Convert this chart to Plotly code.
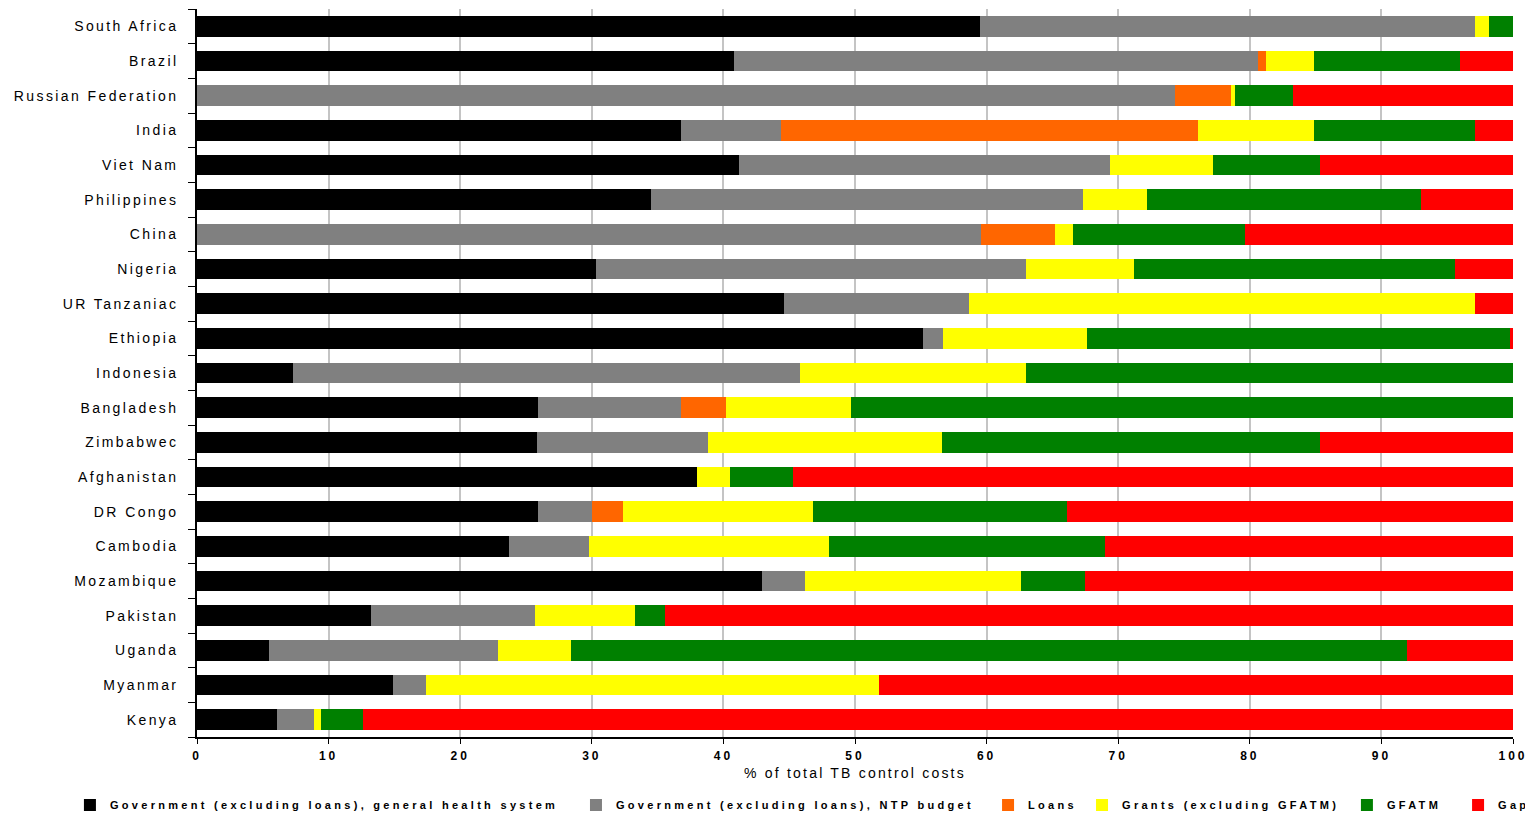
import plotly.graph_objects as go

# countries, top to bottom as in the chart
countries = [
    'South Africa', 'Brazil', 'Russian Federation', 'India', 'Viet Nam',
    'Philippines', 'China', 'Nigeria', 'UR Tanzaniac', 'Ethiopia',
    'Indonesia', 'Bangladesh', 'Zimbabwec', 'Afghanistan', 'DR Congo',
    'Cambodia', 'Mozambique', 'Pakistan', 'Uganda', 'Myanmar', 'Kenya',
]

# % of total TB control costs, per funding source
gov_general = [59.5, 40.8, 0, 36.8, 41.2, 34.5, 0, 30.35, 44.6, 55.2,
               7.3, 25.9, 25.8, 38.0, 25.9, 23.7, 42.9, 13.25, 5.5, 14.9, 6.1]
gov_ntp = [37.6, 39.8, 74.3, 7.6, 28.15, 32.8, 59.6, 32.65, 14.1, 1.5,
           38.5, 10.9, 13.0, 0, 4.15, 6.05, 3.3, 12.45, 17.4, 2.5, 2.8]
loans = [0, 0.6, 4.3, 31.7, 0, 0, 5.6, 0, 0, 0,
         0, 3.4, 0, 0, 2.3, 0, 0, 0, 0, 0, 0]
grants = [1.1, 3.7, 0.3, 8.8, 7.85, 4.9, 1.4, 8.2, 38.4, 10.95,
          17.2, 9.5, 17.8, 2.5, 14.45, 18.25, 16.4, 7.55, 5.5, 34.4, 0.5]
gfatm = [1.8, 11.1, 4.4, 12.2, 8.1, 20.8, 13.0, 24.4, 0, 32.15,
         37.0, 50.3, 28.7, 4.8, 19.3, 21.0, 4.9, 2.3, 63.55, 0, 3.2]
gap = [0, 4.0, 16.7, 2.9, 14.7, 7.0, 20.4, 4.4, 2.9, 0.2,
       0, 0, 14.7, 54.7, 33.9, 31.0, 32.5, 64.45, 8.05, 48.2, 87.4]

series_names = [
    'Government (excluding loans), general health system',
    'Government (excluding loans), NTP budget',
    'Loans',
    'Grants (excluding GFATM)',
    'GFATM',
    'Gap',
]
series_values = [gov_general, gov_ntp, loans, grants, gfatm, gap]
series_colors = ['#000000', '#808080', '#FF6600', '#FFFF00', '#008000', '#FF0000']

x_ticks = [0, 10, 20, 30, 40, 50, 60, 70, 80, 90, 100]

# each legend entry gets its own legend box so they spread out like the original
# (x as a fraction of the whole figure width)
legend_x = [0.0404, 0.3705, 0.6393, 0.7006, 0.8734, 0.9459]

FONT = 'Liberation Sans, Arial, sans-serif'


def spaced(text, px):
    '''Wrap text in a span with letter spacing (the original looks stretched).'''
    return '<span style="letter-spacing:%spx">%s</span>' % (px, text)


fig = go.Figure()
for i, (name, vals, col) in enumerate(zip(series_names, series_values, series_colors)):
    fig.add_trace(go.Bar(
        y=countries,
        x=vals,
        name=spaced(name, 3.3),
        orientation='h',
        marker={'color': col, 'line': {'width': 0}},
        legend='legend' if i == 0 else 'legend%d' % (i + 1),
    ))

# the page body adds an 8px offset, so margins are 8px smaller than measured
layout = {
    'barmode': 'stack',
    'bargap': 0.41,
    'width': 1533,
    'height': 814,
    'showlegend': True,
    'plot_bgcolor': 'white',
    'paper_bgcolor': 'white',
    'font': {'family': FONT, 'color': '#000000'},
    'margin': {'l': 189, 'r': 28, 't': 1, 'b': 85, 'autoexpand': False},
    'xaxis': {
        'range': [0, 100],
        'tickvals': x_ticks,
        'ticktext': [spaced(str(t), 3) for t in x_ticks],
        'tickfont': {'size': 12, 'weight': 'bold'},
        'showgrid': True,
        'gridcolor': '#c4c4c4',
        'gridwidth': 1.5,
        'showline': True,
        'linecolor': '#000000',
        'linewidth': 1.5,
        'ticks': 'outside',
        'ticklen': 5,
        'tickcolor': '#000000',
        'ticklabelstandoff': 2,
        'zeroline': False,
        'title': {'text': spaced('% of total TB control costs', 2.2),
                  'font': {'size': 14}, 'standoff': 6},
    },
    'yaxis': {
        'autorange': 'reversed',
        'tickvals': countries,
        'ticktext': [spaced(c, 2.4) for c in countries],
        'tickfont': {'size': 14},
        'showline': True,
        'linecolor': '#000000',
        'linewidth': 1.5,
        'ticks': 'outside',
        'tickson': 'boundaries',
        'ticklen': 7,
        'tickcolor': '#000000',
        'ticklabelstandoff': 14,
        'showgrid': False,
    },
}

for i, lx in enumerate(legend_x):
    key = 'legend' if i == 0 else 'legend%d' % (i + 1)
    layout[key] = {
        'x': lx,
        'y': 0.0209,
        'xref': 'container',
        'yref': 'container',
        'xanchor': 'left',
        'yanchor': 'middle',
        'orientation': 'h',
        'bgcolor': 'rgba(0,0,0,0)',
        'font': {'size': 11, 'weight': 'bold'},
        'itemclick': False,
    }

fig.update_layout(layout)
fig.write_html('out.html')
